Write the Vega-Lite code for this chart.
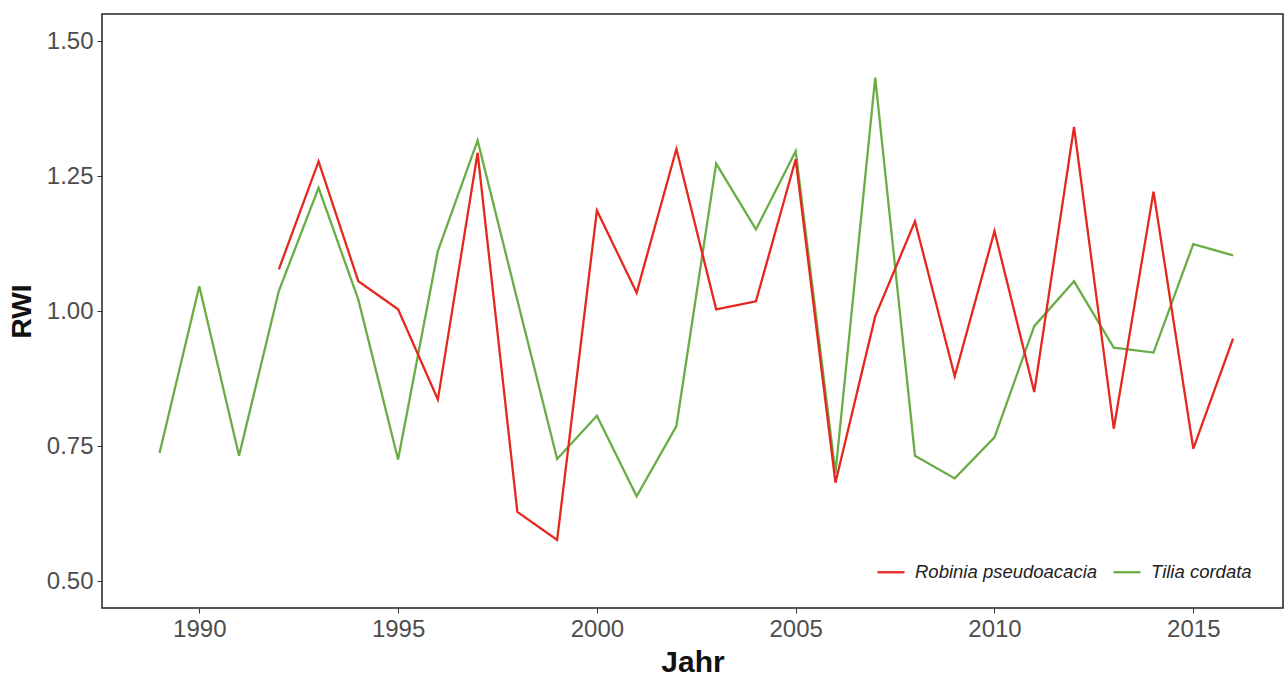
{
  "$schema": "https://vega.github.io/schema/vega-lite/v6.json",
  "autosize": {"type": "none"},
  "padding": {"left": 102, "top": 14, "right": 5, "bottom": 69},
  "width": 1181,
  "height": 594,
  "background": "#ffffff",
  "config": {
    "view": {"stroke": "#222222", "strokeWidth": 1.5},
    "axis": {"grid": false, "domain": false, "labelFont": "Liberation Sans", "titleFont": "Liberation Sans"},
    "legend": {"labelFont": "Liberation Sans"}
  },
  "data": {
    "values": [
      {"year": 1989, "species": "Tilia cordata", "rwi": 0.737},
      {"year": 1990, "species": "Tilia cordata", "rwi": 1.046},
      {"year": 1991, "species": "Tilia cordata", "rwi": 0.732},
      {"year": 1992, "species": "Tilia cordata", "rwi": 1.037},
      {"year": 1993, "species": "Tilia cordata", "rwi": 1.228},
      {"year": 1994, "species": "Tilia cordata", "rwi": 1.021},
      {"year": 1995, "species": "Tilia cordata", "rwi": 0.725},
      {"year": 1996, "species": "Tilia cordata", "rwi": 1.111},
      {"year": 1997, "species": "Tilia cordata", "rwi": 1.316},
      {"year": 1998, "species": "Tilia cordata", "rwi": 1.02},
      {"year": 1999, "species": "Tilia cordata", "rwi": 0.726},
      {"year": 2000, "species": "Tilia cordata", "rwi": 0.806},
      {"year": 2001, "species": "Tilia cordata", "rwi": 0.657},
      {"year": 2002, "species": "Tilia cordata", "rwi": 0.787},
      {"year": 2003, "species": "Tilia cordata", "rwi": 1.273},
      {"year": 2004, "species": "Tilia cordata", "rwi": 1.151},
      {"year": 2005, "species": "Tilia cordata", "rwi": 1.296},
      {"year": 2006, "species": "Tilia cordata", "rwi": 0.7},
      {"year": 2007, "species": "Tilia cordata", "rwi": 1.432},
      {"year": 2008, "species": "Tilia cordata", "rwi": 0.732},
      {"year": 2009, "species": "Tilia cordata", "rwi": 0.69},
      {"year": 2010, "species": "Tilia cordata", "rwi": 0.766},
      {"year": 2011, "species": "Tilia cordata", "rwi": 0.972},
      {"year": 2012, "species": "Tilia cordata", "rwi": 1.055},
      {"year": 2013, "species": "Tilia cordata", "rwi": 0.932},
      {"year": 2014, "species": "Tilia cordata", "rwi": 0.923},
      {"year": 2015, "species": "Tilia cordata", "rwi": 1.124},
      {"year": 2016, "species": "Tilia cordata", "rwi": 1.103},
      {"year": 1992, "species": "Robinia pseudoacacia", "rwi": 1.077},
      {"year": 1993, "species": "Robinia pseudoacacia", "rwi": 1.277},
      {"year": 1994, "species": "Robinia pseudoacacia", "rwi": 1.055},
      {"year": 1995, "species": "Robinia pseudoacacia", "rwi": 1.003},
      {"year": 1996, "species": "Robinia pseudoacacia", "rwi": 0.836},
      {"year": 1997, "species": "Robinia pseudoacacia", "rwi": 1.293},
      {"year": 1998, "species": "Robinia pseudoacacia", "rwi": 0.628},
      {"year": 1999, "species": "Robinia pseudoacacia", "rwi": 0.576},
      {"year": 2000, "species": "Robinia pseudoacacia", "rwi": 1.186},
      {"year": 2001, "species": "Robinia pseudoacacia", "rwi": 1.034},
      {"year": 2002, "species": "Robinia pseudoacacia", "rwi": 1.3},
      {"year": 2003, "species": "Robinia pseudoacacia", "rwi": 1.003},
      {"year": 2004, "species": "Robinia pseudoacacia", "rwi": 1.018},
      {"year": 2005, "species": "Robinia pseudoacacia", "rwi": 1.281},
      {"year": 2006, "species": "Robinia pseudoacacia", "rwi": 0.682},
      {"year": 2007, "species": "Robinia pseudoacacia", "rwi": 0.99},
      {"year": 2008, "species": "Robinia pseudoacacia", "rwi": 1.166},
      {"year": 2009, "species": "Robinia pseudoacacia", "rwi": 0.879},
      {"year": 2010, "species": "Robinia pseudoacacia", "rwi": 1.148},
      {"year": 2011, "species": "Robinia pseudoacacia", "rwi": 0.85},
      {"year": 2012, "species": "Robinia pseudoacacia", "rwi": 1.341},
      {"year": 2013, "species": "Robinia pseudoacacia", "rwi": 0.782},
      {"year": 2014, "species": "Robinia pseudoacacia", "rwi": 1.221},
      {"year": 2015, "species": "Robinia pseudoacacia", "rwi": 0.745},
      {"year": 2016, "species": "Robinia pseudoacacia", "rwi": 0.949}
    ]
  },
  "mark": {"type": "line", "strokeWidth": 2.3, "clip": true},
  "encoding": {
    "x": {
      "field": "year",
      "type": "quantitative",
      "scale": {"domain": [1987.553, 2017.256], "nice": false, "zero": false},
      "axis": {
        "title": "Jahr",
        "values": [1990, 1995, 2000, 2005, 2010, 2015],
        "format": "d",
        "labelFontSize": 24,
        "labelColor": "#4d4d4d",
        "labelPadding": 4,
        "tickColor": "#333333",
        "tickSize": 5,
        "titleFontSize": 30,
        "titleFontWeight": "bold",
        "titleColor": "#111111",
        "titleY": 54,
        "titleBaseline": "middle"
      }
    },
    "y": {
      "field": "rwi",
      "type": "quantitative",
      "scale": {"domain": [0.45, 1.55], "nice": false, "zero": false},
      "axis": {
        "title": "RWI",
        "values": [0.5, 0.75, 1.0, 1.25, 1.5],
        "format": ".2f",
        "labelFontSize": 24,
        "labelColor": "#4d4d4d",
        "labelPadding": 4,
        "tickColor": "#333333",
        "tickSize": 5,
        "titleFontSize": 28,
        "titleFontWeight": "bold",
        "titleColor": "#111111",
        "titleX": -80,
        "titleBaseline": "middle"
      }
    },
    "color": {
      "field": "species",
      "type": "nominal",
      "scale": {"domain": ["Robinia pseudoacacia", "Tilia cordata"], "range": ["#e5281d", "#6aac45"]},
      "legend": {
        "title": null,
        "orient": "none",
        "direction": "horizontal",
        "legendX": 774,
        "legendY": 543,
        "symbolType": "stroke",
        "symbolSize": 729,
        "symbolStrokeWidth": 2.3,
        "labelFontSize": 18.5,
        "labelFontStyle": "italic",
        "labelColor": "#222222",
        "labelOffset": 9,
        "labelLimit": 400,
        "columnPadding": 10
      }
    }
  }
}
